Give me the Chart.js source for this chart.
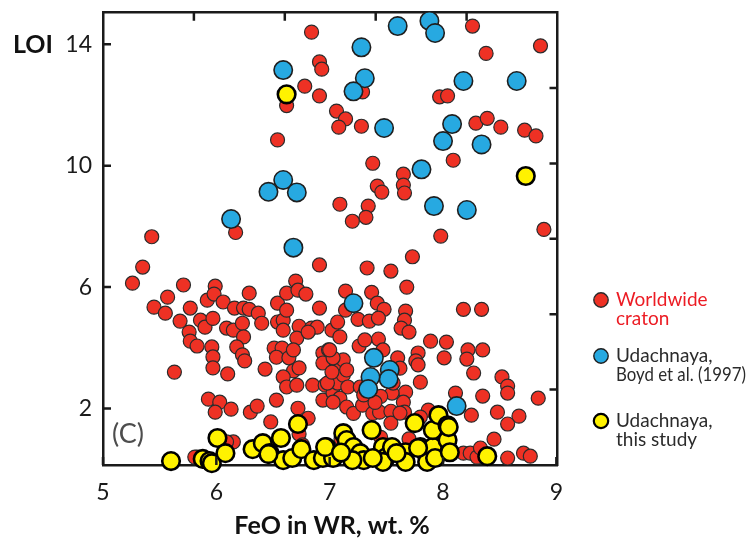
<!DOCTYPE html>
<html>
<head>
<meta charset="utf-8">
<script src="https://cdn.jsdelivr.net/npm/chart.js@4.4.1/dist/chart.umd.min.js"></script>
<style>
  html, body { margin: 0; padding: 0; background: #fff; }
</style>
</head>
<body>
<canvas id="loiChart" width="752" height="543"></canvas>
<script>
// FeO (wt.%) vs LOI
const worldwideCraton = [
  [6.84,14.40],[8.26,14.60],[8.86,13.95],[8.38,13.70],[6.91,13.42],[6.93,13.18],[6.78,12.62],[6.91,12.30],
  [7.29,12.43],[7.97,12.27],[8.04,12.30],[6.62,11.98],[7.06,11.80],[7.14,11.54],[7.08,11.27],[7.28,11.30],
  [8.29,11.40],[8.39,11.56],[8.51,11.27],[8.72,11.17],[8.82,10.98],[6.54,10.85],[8.09,10.18],[7.38,10.08],
  [7.65,9.72],[7.65,9.36],[7.42,9.33],[7.46,9.13],[7.66,9.10],[7.09,8.73],[7.34,8.67],[7.32,8.30],
  [7.20,8.17],[7.98,7.68],[8.89,7.90],[6.17,7.80],[5.43,7.66],[7.73,7.00],
  [5.35,6.66],[5.26,6.13],[6.91,6.73],[5.71,6.07],[5.99,6.03],[5.57,5.67],[5.45,5.34],[5.55,5.14],
  [5.68,4.88],[5.77,5.31],[5.76,4.52],[5.77,4.22],[5.83,4.06],[5.86,4.91],[5.90,4.68],[5.92,5.57],
  [5.97,4.97],[5.98,5.77],[6.06,5.51],[5.96,4.03],[5.97,3.70],[5.97,3.34],[5.63,3.20],[6.10,3.14],
  [6.09,4.65],[6.15,4.58],[6.16,5.31],[6.24,5.31],[6.29,5.80],[6.29,5.27],[6.37,5.14],[6.40,4.81],
  [6.23,4.81],[6.24,4.36],[6.18,4.03],[6.23,3.77],[6.25,3.57],[6.43,3.30],[5.93,2.31],[6.03,2.21],
  [5.99,1.88],[6.13,1.98],[6.30,1.88],[6.36,2.08],[6.48,1.56],[6.53,2.28],[6.54,5.47],[6.54,4.85],
  [6.59,4.91],[6.59,4.58],[6.62,5.80],[6.70,6.20],[6.72,5.90],[6.79,5.77],[6.62,5.24],[6.73,4.71],
  [6.71,4.32],[6.51,3.99],[6.58,3.99],[6.53,3.69],[6.64,3.67],[6.68,3.93],[6.68,3.24],[6.73,3.34],
  [6.59,3.04],[6.62,2.71],[6.71,2.77],[6.85,2.77],[6.91,5.31],[6.84,4.65],[6.89,4.68],[6.94,2.28],
  [6.96,2.77],[6.72,2.01],[6.81,1.68],[6.94,3.83],[6.94,3.50],[6.73,1.16],[5.83,0.40],[6.15,0.90],
  [6.81,4.52],[7.02,4.58],[7.03,2.51],[7.07,2.84],[7.12,3.10],[6.99,3.93],[7.07,3.50],[7.12,3.60],
  [7.33,6.63],[7.54,6.53],[7.68,6.00],[7.14,5.87],[7.37,5.83],[7.42,5.47],[7.48,5.27],[7.14,5.24],
  [7.07,4.85],[7.25,4.94],[7.35,4.88],[7.43,4.98],[7.67,5.21],[7.66,4.91],[7.63,4.65],[7.70,4.52],
  [8.18,5.27],[8.34,5.27],[7.09,4.36],[7.26,4.06],[7.43,4.29],[7.47,3.93],[7.89,4.22],[8.03,4.19],
  [7.78,3.83],[7.76,3.57],[8.01,3.67],[8.22,3.93],[8.35,3.93],[8.21,3.63],[8.27,3.17],[8.52,3.04],
  [8.57,2.74],[8.57,2.51],[8.84,2.34],[8.35,2.41],[8.48,1.88],[8.67,1.75],[8.57,1.49],[8.45,0.99],
  [8.25,1.78],[8.11,2.51],[7.80,2.87],[7.67,2.54],[7.55,2.51],[7.65,2.21],[7.57,3.37],[7.60,3.67],
  [7.78,3.44],[6.98,2.84],[7.09,2.34],[7.15,2.05],[7.21,1.84],[7.29,2.11],[7.38,1.84],[7.44,1.88],
  [7.54,1.91],[7.54,1.52],[7.66,1.88],[7.16,2.71],[7.27,2.71],[7.56,2.84],[7.02,3.20],[7.03,3.67],
  [7.00,3.93],[7.87,1.95],[7.31,4.26],[7.62,3.33],[7.62,1.85],[7.80,1.72],[7.03,2.21],[7.15,3.27],
  [7.30,2.45],[7.45,2.40],[7.40,2.20],
  [5.81,0.40],[8.18,0.53],[8.24,0.53],[8.30,0.40],[8.33,0.70],[8.57,0.37],[8.71,0.53],[8.77,0.43],
  [6.09,0.90],[6.76,0.80],[7.10,1.00],[7.45,1.05],[7.70,1.00],[7.95,1.00]
];
const udachnayaBoyd = [
  [6.59,13.15],[6.59,9.53],[6.46,9.14],[6.71,9.12],[6.13,8.24],[6.68,7.30],[7.60,14.60],[7.88,14.77],
  [7.93,14.37],[7.28,13.90],[7.31,12.88],[7.21,12.45],[8.18,12.79],[8.65,12.79],[7.48,11.24],[8.08,11.37],
  [8.00,10.81],[8.34,10.70],[7.81,9.88],[7.92,8.67],[8.21,8.54],[7.21,5.47],[7.39,3.67],[7.53,3.27],
  [7.52,2.97],[7.36,3.04],[7.34,2.64],[8.12,2.08]
];
const udachnayaThisStudy = [
  [6.62,12.35],[8.73,9.66],
  [5.60,0.27],[5.88,0.34],[5.94,0.27],[5.96,0.20],[6.01,1.03],[6.08,0.53],[6.32,0.66],[6.41,0.86],
  [6.47,0.53],[6.57,1.03],[6.59,0.30],[6.67,0.37],[6.72,1.49],[6.75,0.66],[6.86,0.30],[6.97,0.73],
  [6.94,0.37],[7.03,0.37],[7.12,1.19],[7.15,0.96],[7.21,0.73],[7.27,0.53],[7.30,0.30],[7.37,1.29],
  [7.47,0.73],[7.50,0.40],[7.47,0.24],[7.55,0.73],[7.67,0.56],[7.67,0.24],[7.75,1.52],[7.80,0.73],
  [7.85,0.53],[7.86,0.24],[7.91,0.73],[7.91,1.29],[7.93,0.37],[7.96,1.78],[8.04,1.45],[8.04,0.96],
  [8.06,0.56],[8.39,0.43],[8.05,1.39],[6.46,0.50],[7.59,0.53],[7.78,0.70],[7.38,0.37],[7.20,0.30],
  [6.96,0.73],[7.10,0.55]
];
const xTicks = [5, 6, 7, 8, 9];
const yTicks = [2, 6, 10, 14];
// unlabelled ticks on the top and right frame
const topTicks = [1, 2, 3, 4];
const rightTicks = [1, 2, 3, 4, 5];
const seriesNames = [['Worldwide', 'craton'], ['Udachnaya,', 'Boyd et al. (1997)'], ['Udachnaya,', 'this study']];

const toPoints = arr => arr.map(p => ({ x: p[0], y: p[1] }));
const FONT = 'Lato, "Open Sans", sans-serif';

const frameAndText = {
  id: 'frameAndText',
  afterDraw(chart) {
    const { ctx, chartArea: a, scales } = chart;
    ctx.save();
    ctx.strokeStyle = '#1a1a1a';
    ctx.lineWidth = 2.5;
    ctx.beginPath();
    xTicks.forEach(v => { const p = scales.x.getPixelForValue(v); ctx.moveTo(p, a.bottom); ctx.lineTo(p, a.bottom - 8); });
    yTicks.forEach(v => { const p = scales.y.getPixelForValue(v); ctx.moveTo(a.left, p); ctx.lineTo(a.left + 8, p); });
    topTicks.forEach(v => { const p = scales.x2.getPixelForValue(v); ctx.moveTo(p, a.top); ctx.lineTo(p, a.top + 8); });
    rightTicks.forEach(v => { const p = scales.y2.getPixelForValue(v); ctx.moveTo(a.right, p); ctx.lineTo(a.right - 8, p); });
    ctx.stroke();

    ctx.fillStyle = '#111';
    ctx.textBaseline = 'middle';
    ctx.textAlign = 'center';
    ctx.font = 'bold 25px ' + FONT;
    ctx.fillText('LOI', 33, 45);
    ctx.fillText('FeO in WR, wt. %', 332, 526);

    ctx.textAlign = 'left';
    ctx.fillStyle = '#4d4d4d';
    ctx.font = '27px ' + FONT;
    ctx.fillText('(C)', 112, 434);

    // legend, text squeezed to the right margin like the original
    const rows = [300, 356, 421];
    ctx.font = '19px ' + FONT;
    chart.data.datasets.forEach((ds, i) => {
      ctx.beginPath();
      ctx.arc(601, rows[i], 7.2, 0, Math.PI * 2);
      ctx.fillStyle = ds.backgroundColor;
      ctx.fill();
      ctx.lineWidth = i === 2 ? 2.2 : 1.4;
      ctx.strokeStyle = ds.borderColor;
      ctx.stroke();
      ctx.fillStyle = i === 0 ? '#ec1c24' : '#2b2b2b';
      seriesNames[i].forEach((t, k) => ctx.fillText(t, 616, rows[i] + k * 19, 130));
    });
    ctx.restore();
  }
};

const noPad = s => { s.paddingTop = 0; s.paddingBottom = 0; s.paddingLeft = 0; s.paddingRight = 0; };

new Chart(document.getElementById('loiChart'), {
  type: 'scatter',
  data: {
    datasets: [
      { label: 'Worldwide craton', data: toPoints(worldwideCraton), backgroundColor: '#ee3124', borderColor: '#2b2b2b',
        borderWidth: 1.2, pointRadius: 7, order: 2, clip: false },
      { label: 'Udachnaya, Boyd et al. (1997)', data: toPoints(udachnayaBoyd), backgroundColor: '#27a9e1', borderColor: '#1f1f1f',
        borderWidth: 1.6, pointRadius: 9.2, order: 1, clip: false },
      { label: 'Udachnaya, this study', data: toPoints(udachnayaThisStudy), backgroundColor: '#fff200', borderColor: '#000',
        borderWidth: 2.6, pointRadius: 8.8, order: 0, clip: false }
    ]
  },
  options: {
    responsive: false,
    animation: false,
    events: [],
    layout: { padding: { left: 0, right: 194.5, top: 12.7, bottom: 0 } },
    plugins: { legend: { display: false }, tooltip: { enabled: false } },
    scales: {
      x: {
        type: 'linear', position: 'bottom', min: 5, max: 9.01,
        afterBuildTicks: s => { s.ticks = xTicks.map(v => ({ value: v })); },
        afterFit: s => { s.height = 78; noPad(s); },
        grid: { display: false, drawTicks: false },
        border: { display: true, color: '#1a1a1a', width: 2.5 },
        ticks: { color: '#1a1a1a', padding: 14, font: { family: FONT, size: 23 } }
      },
      y: {
        type: 'linear', position: 'left', min: 0.14, max: 15.04,
        afterBuildTicks: s => { s.ticks = yTicks.map(v => ({ value: v })); },
        afterFit: s => { s.width = 103; noPad(s); },
        grid: { display: false, drawTicks: false },
        border: { display: true, color: '#1a1a1a', width: 2.5 },
        ticks: { color: '#1a1a1a', padding: 11, font: { family: FONT, size: 23 } }
      },
      x2: {
        type: 'linear', position: 'top', min: 0, max: 5,
        afterFit: s => { s.height = 0; noPad(s); },
        grid: { display: false, drawTicks: false },
        border: { display: true, color: '#1a1a1a', width: 2.5 },
        ticks: { display: false }
      },
      y2: {
        type: 'linear', position: 'right', min: 0, max: 6,
        afterFit: s => { s.width = 0; noPad(s); },
        grid: { display: false, drawTicks: false },
        border: { display: true, color: '#1a1a1a', width: 2.5 },
        ticks: { display: false }
      }
    }
  },
  plugins: [frameAndText]
});
</script>
</body>
</html>
